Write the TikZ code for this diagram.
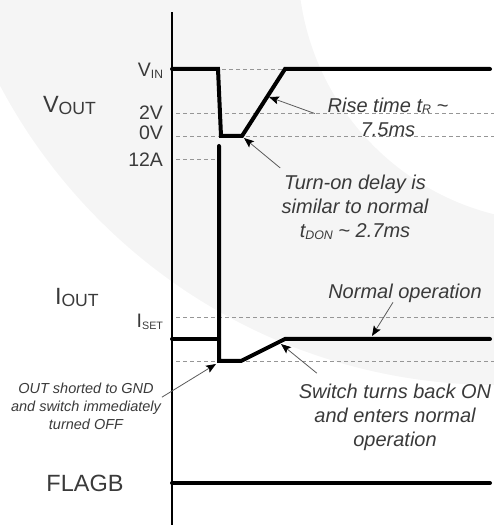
\documentclass[tikz,border=0pt]{standalone}
\usepackage{fontspec}
\setmainfont{Liberation Sans}
\usetikzlibrary{arrows.meta}
\newcommand{\lowsub}[2][0.62]{\raisebox{-0.08em}{\scalebox{#1}{#2}}}

\begin{document}
\begin{tikzpicture}[x=1pt,y=1pt,
  trace/.style={draw=drawColor,line width=4pt,line cap=round},
  axisline/.style={draw=drawColor,line width=1.2pt},
  level/.style={draw=dashColor,line width=0.9pt,dash pattern=on 4pt off 3pt},
  biglabel/.style={text=textColor,inner sep=0pt,outer sep=0pt,font=\fontsize{23.5}{27}\selectfont},
  levellabel/.style={text=textColor,anchor=base east,inner sep=0pt,outer sep=0pt,font=\fontsize{19.5}{23}\selectfont},
  note/.style={text=textColor,align=center,inner sep=0pt,outer sep=0pt,font=\fontsize{20}{24}\selectfont\itshape},
  smallnote/.style={note,font=\fontsize{14.5}{18}\selectfont\itshape},
  pointer/.style={draw=pointerColor,line width=0.8pt,-{Stealth[length=10pt,width=8pt,inset=2pt,color=drawColor]}}]
\definecolor{fillColor}{RGB}{245,245,245}
\definecolor{drawColor}{RGB}{0,0,0}
\definecolor{dashColor}{RGB}{150,150,150}
\definecolor{pointerColor}{RGB}{90,90,90}
\definecolor{textColor}{RGB}{58,58,58}
\path[use as bounding box] (0,0) rectangle (494,525);
\begin{scope}
\path[clip] (  0.00,  0.00) rectangle (494.00,525.00);

% faint swoosh behind the chart
\path[fill=fillColor,even odd rule] (497,702) circle (562) (557,562) circle (259);
\end{scope}

% reference levels
\path[level] (222,456) -- (494,456);

\path[level] (176,412) -- (494,412);

\path[level] (176,389) -- (494,389);

\path[level] (176,366) -- (216,366);

\path[level] (176,208) -- (494,208);

\path[level] (176,164) -- (494,164);

% time axis
\path[axisline] (172,  0) -- (172,513);

% VOUT
\path[trace] (172,456) -- (218,456) -- (221,389) -- (242,389) -- (285,456) -- (490,456);

% IOUT
\path[trace] (172,186) -- (219,186);

\path[trace] (219,379) -- (219,164) -- (241,164) -- (285,186) -- (490,186);

% FLAGB
\path[trace] (172, 42) -- (490, 42);

\node[biglabel,anchor=base west] (vout) at ( 43,412) {V\lowsub[0.75]{OUT}};

\node[biglabel,anchor=base west] (iout) at ( 55,220) {I\lowsub[0.75]{OUT}};

\node[biglabel,anchor=base] (flagb) at ( 85, 33) {FLAGB};

\node[levellabel] (vin) at (163,448) {V\lowsub{IN}};

\node[levellabel] (twov) at (163,405) {2V};

\node[levellabel] (zerov) at (163,385) {0V};

\node[levellabel] (twelvea) at (163,358) {12A};

\node[levellabel] (iset) at (163,197) {I\lowsub[0.55]{SET}};

\node[note] (rise) at (388,408) {Rise time t\lowsub{R} \textasciitilde\\7.5ms};

\node[note] (turnon) at (355,317.5) {Turn-on delay is\\similar to normal\\t\lowsub{DON} \textasciitilde{} 2.7ms};

\node[note] (normal) at (405,232) {Normal operation};

\node[note] (switchon) at (395,108) {Switch turns back ON\\and enters normal\\operation};

\node[smallnote] (shorted) at ( 86,119) {OUT shorted to GND\\and switch immediately\\turned OFF};

% pointers
\coordinate (riseTip) at (269,428);
\coordinate (delayTip) at (244,387);
\coordinate (normalTip) at (372,189);
\coordinate (backonTip) at (281,181);
\coordinate (shortTip) at (216,161);

\path[pointer] ([shift={(-13,3.5)}]rise.west) -- (riseTip);

\path[pointer] ([shift={(-1.5,7.5)}]turnon.north west) -- (delayTip);

\path[pointer] ([xshift=-12pt]normal.south) -- (normalTip);

\path[pointer] ([shift={(18,10.5)}]switchon.north west) -- (backonTip);

\path[pointer] ([shift={(1,-14.5)}]shorted.north east) -- (shortTip);
\end{tikzpicture}
\end{document}
